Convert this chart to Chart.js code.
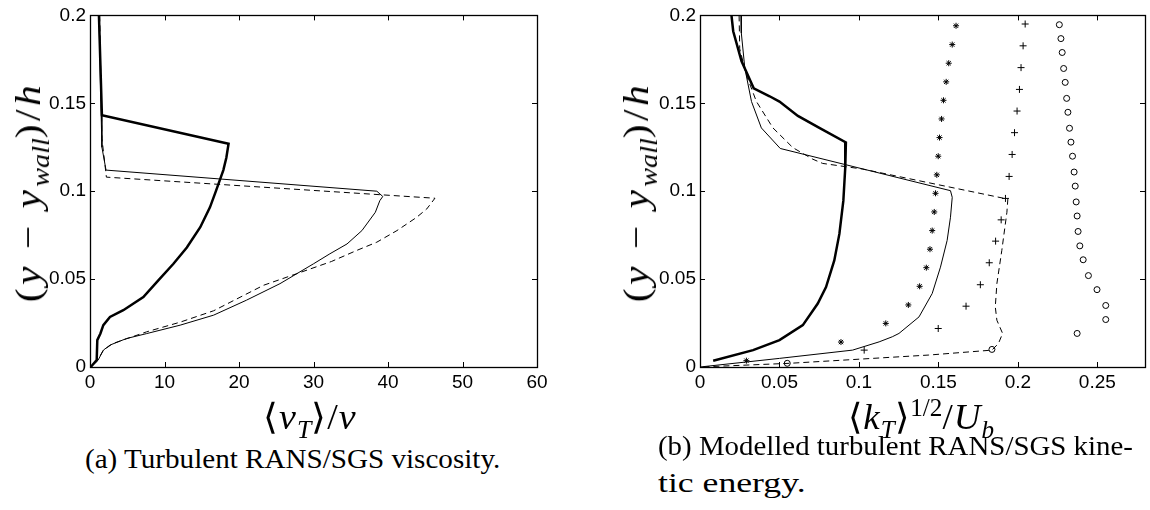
<!DOCTYPE html>
<html>
<head>
<meta charset="utf-8">
<script src="https://cdn.jsdelivr.net/npm/chart.js@4.4.1/dist/chart.umd.min.js"></script>
<style>
  body { margin: 0; background: #fff; width: 1150px; height: 510px; position: relative; overflow: hidden; }
  canvas { position: absolute; top: 0; }
  .lbl { position: absolute; font-family: "Liberation Serif", "Times New Roman", Times, serif; color: #000; white-space: nowrap; line-height: 1; font-weight: normal; }
  .math { font-size: 36px; letter-spacing: 1px; }
  .ytitle { font-size: 36px; letter-spacing: 3px; }
  .math sub { font-size: 0.68em; vertical-align: -0.35em; line-height: 0; letter-spacing: 0; }
  .math sup { font-size: 0.68em; vertical-align: 0.55em; line-height: 0; font-style: normal; letter-spacing: 0; }
  .cap { font-size: 27px; transform-origin: 0 0; }
</style>
</head>
<body>
<canvas id="nuChart" width="560" height="400" style="left:0px"></canvas>
<canvas id="kChart" width="540" height="400" style="left:610px"></canvas>

<div class="lbl math" id="nuXTitle">⟨<i>ν</i><sub><i>T</i></sub>⟩/<i>ν</i></div>
<div class="lbl math ytitle" id="nuYTitle">(<i>y</i> − <i>y</i><sub><i>wall</i></sub>)/<i>h</i></div>
<div class="lbl math" id="kXTitle">⟨<i>k</i><sub><i>T</i></sub>⟩<sup>1/2</sup>/<i>U</i><sub><i>b</i></sub></div>
<div class="lbl math ytitle" id="kYTitle">(<i>y</i> − <i>y</i><sub><i>wall</i></sub>)/<i>h</i></div>

<div class="lbl cap" id="capA">(a) Turbulent RANS/SGS viscosity.</div>
<div class="lbl cap" id="capB1">(b) Modelled turbulent RANS/SGS kine-</div>
<div class="lbl cap" id="capB2">tic energy.</div>

<script>
// wall-normal tick values (shared by both panels)
const yTicks = [0, 0.05, 0.1, 0.15, 0.2];
const yTickLabels = ["0", "0.05", "0.1", "0.15", "0.2"];

// (a) turbulent viscosity
const nuTicks = [0, 10, 20, 30, 40, 50, 60];
const nuTickLabels = ["0", "10", "20", "30", "40", "50", "60"];

const nuThickX = [1.2, 1.6, 18.6, 18.3, 17.9, 17.4, 16.9, 16.1, 14.8, 13.0, 11.2, 9.17, 7.16, 4.47, 2.68, 1.79, 1.4, 0.98, 0.9, 0.5, 0.1];
const nuThickY = [0.2, 0.1432, 0.127, 0.119, 0.112, 0.106, 0.1, 0.0908, 0.0795, 0.068, 0.0587, 0.0493, 0.0398, 0.0323, 0.0285, 0.0238, 0.0191, 0.0153, 0.004, 0.002, 0];

const nuThinX = [1.2, 1.5, 1.6, 2.15, 38.5, 39.3, 38.9, 38.3, 36.5, 34.5, 32.2, 30.0, 25.5, 21.0, 16.6, 12.1, 7.6, 4.9, 2.7, 1.8, 1.1, 0.4, 0];
const nuThinY = [0.2, 0.143, 0.125, 0.112, 0.1, 0.097, 0.0946, 0.088, 0.0776, 0.07, 0.0644, 0.0587, 0.0474, 0.038, 0.0295, 0.0238, 0.019, 0.0162, 0.0125, 0.0096, 0.004, 0.001, 0];

const nuDashX = [1.3, 1.6, 2.2, 46.3, 45.2, 43.8, 41.2, 38.5, 35.8, 32.4, 27.7, 23.3, 16.6, 12.1, 7.6, 3.1, 1.8, 0.9, 0];
const nuDashY = [0.2, 0.13, 0.108, 0.096, 0.0899, 0.085, 0.0776, 0.071, 0.0663, 0.06, 0.053, 0.0465, 0.032, 0.0255, 0.02, 0.0134, 0.0096, 0.003, 0];

// (b) modelled kinetic energy
const kTicks = [0, 0.05, 0.1, 0.15, 0.2, 0.25];
const kTickLabels = ["0", "0.05", "0.1", "0.15", "0.2", "0.25"];

const kThickX = [0.0198, 0.0209, 0.0261, 0.0338, 0.0438, 0.05, 0.0616, 0.0751, 0.0918, 0.0914, 0.0902, 0.0877, 0.0845, 0.0793, 0.0741, 0.0647, 0.05, 0.0334, 0.0083];
const kThickY = [0.2, 0.191, 0.174, 0.1585, 0.154, 0.151, 0.1428, 0.136, 0.1277, 0.1135, 0.0946, 0.0757, 0.0606, 0.0455, 0.0361, 0.0238, 0.0153, 0.0096, 0.0036];

const kThinX = [0.0258, 0.026, 0.0282, 0.0324, 0.0386, 0.0505, 0.1576, 0.1587, 0.1576, 0.1555, 0.1513, 0.1461, 0.1378, 0.1252, 0.121, 0.1127, 0.096, 0.05, 0];
const kThinY = [0.2, 0.19, 0.17, 0.151, 0.136, 0.1243, 0.1003, 0.0965, 0.0852, 0.072, 0.0568, 0.0418, 0.0285, 0.0191, 0.0172, 0.0143, 0.0096, 0.0049, 0];

const kDashX = [0.0246, 0.025, 0.0292, 0.0355, 0.0459, 0.0584, 0.071, 0.0772, 0.1023, 0.1937, 0.1931, 0.1899, 0.1868, 0.1858, 0.1868, 0.1904, 0.1878, 0.1837, 0.144, 0.0564, 0];
const kDashY = [0.2, 0.181, 0.166, 0.151, 0.136, 0.1248, 0.1182, 0.1158, 0.1126, 0.0955, 0.088, 0.0663, 0.0474, 0.0342, 0.0266, 0.0191, 0.0134, 0.0096, 0.0068, 0.0021, 0];

const starX = [0.1611, 0.1587, 0.1565, 0.1549, 0.1532, 0.152, 0.1507, 0.1499, 0.149, 0.1482, 0.1474, 0.1461, 0.1447, 0.1424, 0.1382, 0.1311, 0.1169, 0.0887, 0.0292];
const starY = [0.1941, 0.1834, 0.1728, 0.1622, 0.1517, 0.1411, 0.1305, 0.1199, 0.1093, 0.0988, 0.0882, 0.0776, 0.067, 0.0565, 0.0459, 0.0353, 0.0248, 0.0142, 0.0036];

const plusX = [0.2046, 0.2033, 0.202, 0.201, 0.1995, 0.1979, 0.1964, 0.1945, 0.1922, 0.1895, 0.186, 0.182, 0.1764, 0.1674, 0.1499, 0.1033];
const plusY = [0.1951, 0.1827, 0.1703, 0.1579, 0.1456, 0.1333, 0.1209, 0.1084, 0.0959, 0.0837, 0.0716, 0.0593, 0.0468, 0.0346, 0.0219, 0.0096];

const circX = [0.2261, 0.2271, 0.2279, 0.2288, 0.2298, 0.2307, 0.2315, 0.2325, 0.2334, 0.2344, 0.2354, 0.2361, 0.2367, 0.2373, 0.2379, 0.239, 0.2411, 0.2444, 0.2498, 0.2553, 0.2553, 0.2373, 0.1837, 0.0549];
const circY = [0.1947, 0.1868, 0.1789, 0.1698, 0.1619, 0.1528, 0.1449, 0.1358, 0.1279, 0.1199, 0.1109, 0.1029, 0.0939, 0.0859, 0.0771, 0.0689, 0.061, 0.052, 0.044, 0.035, 0.027, 0.0191, 0.01, 0.0021];

function pts(xs, ys) {
  return xs.map((x, i) => ({ x: x, y: ys[i] }));
}

function line(xs, ys, width, dash) {
  return {
    data: pts(xs, ys),
    showLine: true,
    borderColor: "#000",
    borderWidth: width,
    borderDash: dash || [],
    pointRadius: 0,
    tension: 0,
  };
}

function markers(xs, ys, style, radius) {
  return {
    data: pts(xs, ys),
    showLine: false,
    pointStyle: style,
    pointRadius: radius,
    pointBackgroundColor: "#fff",
    pointBorderColor: "#000",
    pointBorderWidth: 1,
  };
}

// matlab style box with inward ticks on all four sides
const boxTicks = {
  id: "boxTicks",
  afterDatasetsDraw(chart) {
    const { ctx, chartArea: a, scales } = chart;
    const x = scales.x, y = scales.y;
    ctx.save();
    ctx.strokeStyle = "#000";
    ctx.lineWidth = 1;
    ctx.beginPath();
    x.ticks.forEach((t) => {
      const px = Math.round(x.getPixelForValue(t.value)) + 0.5;
      ctx.moveTo(px, a.bottom); ctx.lineTo(px, a.bottom - 5);
      ctx.moveTo(px, a.top); ctx.lineTo(px, a.top + 5);
    });
    y.ticks.forEach((t) => {
      const py = Math.round(y.getPixelForValue(t.value)) + 0.5;
      ctx.moveTo(a.left, py); ctx.lineTo(a.left + 5, py);
      ctx.moveTo(a.right, py); ctx.lineTo(a.right - 5, py);
    });
    ctx.stroke();
    ctx.lineWidth = 1.3;
    ctx.strokeRect(Math.round(a.left) + 0.5, Math.round(a.top) + 0.5, Math.round(a.right - a.left), Math.round(a.bottom - a.top));
    ctx.restore();
  },
};

const tickFont = { family: "'Liberation Sans', Arial, sans-serif", size: 19 };

function makeChart(id, xMax, xTicks, xLabels, rightPad, datasets) {
  return new Chart(document.getElementById(id), {
    type: "scatter",
    data: { datasets: datasets },
    options: {
      responsive: false,
      animation: false,
      layout: { padding: { top: 14, right: rightPad, left: 0, bottom: 0 } },
      plugins: { legend: { display: false }, tooltip: { enabled: false } },
      scales: {
        x: {
          type: "linear",
          min: 0,
          max: xMax,
          grid: { display: false, drawTicks: false },
          border: { display: false },
          afterBuildTicks: (s) => { s.ticks = xTicks.map((v) => ({ value: v })); },
          afterFit: (s) => { s.height = 33; },
          ticks: {
            color: "#000",
            font: tickFont,
            padding: 4,
            maxRotation: 0,
            autoSkip: false,
            callback: (v, i) => xLabels[i],
          },
        },
        y: {
          type: "linear",
          min: 0,
          max: 0.2,
          grid: { display: false, drawTicks: false },
          border: { display: false },
          afterBuildTicks: (s) => { s.ticks = yTicks.map((v) => ({ value: v })); },
          afterFit: (s) => { s.width = 90; },
          ticks: {
            color: "#000",
            font: tickFont,
            padding: 4,
            autoSkip: false,
            callback: (v, i) => yTickLabels[i],
          },
        },
      },
    },
    plugins: [boxTicks],
  });
}

makeChart("nuChart", 60, nuTicks, nuTickLabels, 23, [
  line(nuThickX, nuThickY, 2.5),
  line(nuThinX, nuThinY, 1),
  line(nuDashX, nuDashY, 1, [6, 4]),
]);

makeChart("kChart", 0.28, kTicks, kTickLabels, 2, [
  line(kThickX, kThickY, 2.5),
  line(kThinX, kThinY, 1),
  line(kDashX, kDashY, 1, [6, 4]),
  markers(starX, starY, "star", 3),
  markers(plusX, plusY, "cross", 3.5),
  markers(circX, circY, "circle", 3),
]);

// place the LaTeX-like titles, stretched to the reference widths
function placeCentered(id, cx, cy, w, rot) {
  const el = document.getElementById(id);
  const sx = w / el.offsetWidth;
  el.style.left = cx + "px";
  el.style.top = cy + "px";
  el.style.transform = `translate(-50%, -50%) rotate(${rot}deg) scaleX(${sx})`;
}

function placeCaption(id, left, top, w) {
  const el = document.getElementById(id);
  const sx = w / el.offsetWidth;
  el.style.left = left + "px";
  el.style.top = top + "px";
  el.style.transform = `scaleX(${sx})`;
}

placeCentered("nuXTitle", 310, 417, 94, 0);
placeCentered("kXTitle", 921, 417, 146, 0);
placeCentered("nuYTitle", 28, 192, 220, -90);
placeCentered("kYTitle", 636, 192, 220, -90);

placeCaption("capA", 85, 446, 415);
placeCaption("capB1", 658, 433, 475);
placeCaption("capB2", 658, 470, 148);
</script>
</body>
</html>
